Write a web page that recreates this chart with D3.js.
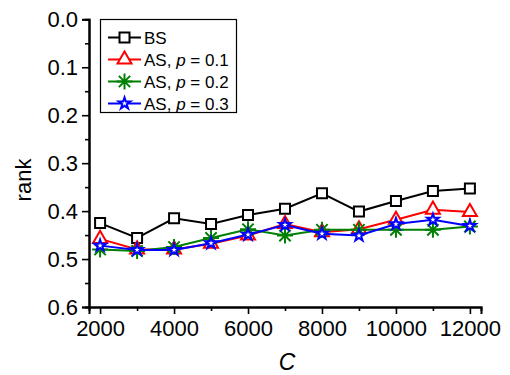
<!DOCTYPE html>
<html><head><meta charset="utf-8">
<script src="https://cdn.jsdelivr.net/npm/d3@7/dist/d3.min.js"></script>
<style>body{margin:0;background:#fff}svg{display:block;font-family:"Liberation Sans",Arial,sans-serif}</style>
</head><body><svg id="c" width="510" height="375"></svg>
<script>
const xValues = [2000,3000,4000,5000,6000,7000,8000,9000,10000,11000,12000];
const seriesNames = ["BS","AS, p = 0.1","AS, p = 0.2","AS, p = 0.3"];
const bsValues  = [0.425,0.456,0.415,0.427,0.408,0.395,0.363,0.401,0.379,0.358,0.353];
const p01Values = [0.458,0.480,0.480,0.468,0.451,0.427,0.444,0.438,0.418,0.397,0.402];
const p02Values = [0.480,0.483,0.475,0.456,0.438,0.451,0.439,0.439,0.439,0.439,0.432];
const p03Values = [0.472,0.481,0.481,0.467,0.449,0.429,0.447,0.451,0.427,0.418,0.431];
const xTicks = [2000,4000,6000,8000,10000,12000];
const yTicks = [0,0.1,0.2,0.3,0.4,0.5,0.6];

const svg = d3.select("#c");
const x = d3.scaleLinear().domain([1700,12300]).range([89,481]);
const y = d3.scaleLinear().domain([0,0.6]).range([19.3,307]);
const FONT = "Liberation Sans, Arial, sans-serif";

// axes
const gx = svg.append("g").attr("transform","translate(0,307)");
gx.call(d3.axisBottom(x).tickValues(d3.range(3000,12001,2000)).tickSize(4).tickFormat(""));
const gx2 = svg.append("g").attr("transform","translate(0,307)");
gx2.call(d3.axisBottom(x).tickValues(xTicks).tickSize(7).tickPadding(6).tickFormat(d3.format("d")));
gx2.selectAll("text").attr("font-size",22).attr("fill","#000").attr("font-family",FONT);

const gy = svg.append("g").attr("transform","translate(89,0)");
gy.call(d3.axisLeft(y).tickValues(d3.range(0.05,0.6,0.1)).tickSize(4).tickFormat(""));
const gy2 = svg.append("g").attr("transform","translate(89,0)");
gy2.call(d3.axisLeft(y).tickValues(yTicks).tickSize(7).tickPadding(4).tickFormat(d3.format(".1f")));
gy2.selectAll("text").attr("font-size",22).attr("fill","#000").attr("font-family",FONT);
svg.selectAll(".domain").attr("stroke-width",2).attr("stroke","#000");
svg.selectAll(".tick line").attr("stroke-width",1.6).attr("stroke","#000");

svg.append("text").attr("transform","translate(31,180) rotate(-90)").attr("text-anchor","middle")
  .attr("font-size",22).text("rank");
svg.append("text").attr("x",287).attr("y",370).attr("text-anchor","middle")
  .attr("font-size",23).attr("font-style","italic").text("C");

// markers
function asterisk(r){
  let p="";
  for(let i=0;i<4;i++){const a=i*Math.PI/4;const dx=r*Math.cos(a),dy=r*Math.sin(a);
    p+=`M${-dx},${-dy}L${dx},${dy}`;}
  return p;
}
const series = [
  {name:seriesNames[0], vals:bsValues, color:"#000", mk:d3.symbol(d3.symbolSquare,100)()},
  {name:seriesNames[1], vals:p01Values, color:"#ff0000", mk:d3.symbol(d3.symbolTriangle,85)()},
  {name:seriesNames[2], vals:p02Values, color:"#008000", mk:asterisk(8)},
  {name:seriesNames[3], vals:p03Values, color:"#0000ff", mk:d3.symbol(d3.symbolStar,42)()}
];
const line = d3.line().x((d,i)=>x(xValues[i])).y(d=>y(d));
series.forEach(s=>{
  const g = svg.append("g");
  g.append("path").attr("d",line(s.vals)).attr("fill","none").attr("stroke",s.color).attr("stroke-width",2);
  g.selectAll("path.m").data(s.vals).enter().append("path").attr("class","m")
    .attr("transform",(d,i)=>`translate(${x(xValues[i])},${y(d)})`)
    .attr("d",s.mk).attr("fill","#fff").attr("stroke",s.color).attr("stroke-width",2);
});

// legend
const lg = svg.append("g");
lg.append("rect").attr("x",100.5).attr("y",19.5).attr("width",136).attr("height",93)
  .attr("fill","#fff").attr("stroke","#000").attr("stroke-width",1.2);
series.forEach((s,i)=>{
  const cy = 37.5 + i*22;
  lg.append("line").attr("x1",108).attr("x2",141).attr("y1",cy).attr("y2",cy).attr("stroke",s.color).attr("stroke-width",2);
  lg.append("path").attr("transform",`translate(124.5,${cy})`).attr("d",s.mk).attr("fill","#fff").attr("stroke",s.color).attr("stroke-width",2);
  const t = lg.append("text").attr("x",144).attr("y",cy+6).attr("font-size",17);
  if(i===0) t.text("BS");
  else { t.append("tspan").text("AS, "); t.append("tspan").attr("font-style","italic").text("p");
         t.append("tspan").text(" = 0."+i); }
});
</script></body></html>
